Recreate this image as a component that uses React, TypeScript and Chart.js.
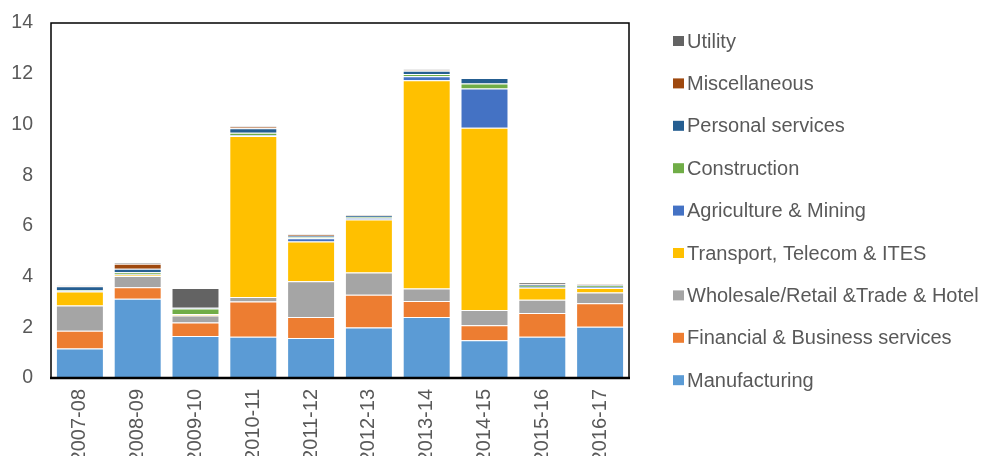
import React, { useEffect, useRef } from "react";
import { Chart, registerables } from "chart.js";

Chart.register(...registerables);

const categories = ["2007-08", "2008-09", "2009-10", "2010-11", "2011-12", "2012-13", "2013-14", "2014-15", "2015-16", "2016-17"];

const manufacturing = [1.16, 3.13, 1.66, 1.63, 1.58, 1.99, 2.41, 1.49, 1.63, 2.02];
const financial = [0.70, 0.45, 0.53, 1.39, 0.83, 1.29, 0.63, 0.59, 0.93, 0.93];
const wholesale = [1.00, 0.44, 0.27, 0.17, 1.41, 0.88, 0.49, 0.60, 0.53, 0.42];
const transport = [0.55, 0.04, 0.05, 6.35, 1.56, 2.09, 8.21, 7.19, 0.47, 0.18];
const agriculture = [0.02, 0.03, 0.01, 0.03, 0.13, 0.07, 0.16, 1.55, 0.03, 0.04];
const construction = [0.03, 0.08, 0.22, 0.10, 0.04, 0.03, 0.09, 0.19, 0.05, 0.06];
const personal = [0.16, 0.14, 0.02, 0.18, 0.06, 0.05, 0.13, 0.22, 0.05, 0.03];
const miscellaneous = [0.02, 0.20, 0.01, 0.05, 0.05, 0.01, 0.02, 0.01, 0.02, 0.02];
const utility = [0.01, 0.04, 0.78, 0.02, 0.02, 0.02, 0.03, 0.01, 0.05, 0.01];

const yTicks = [0, 2, 4, 6, 8, 10, 12, 14];

const seriesNames = [
  "Manufacturing",
  "Financial & Business services",
  "Wholesale/Retail &Trade & Hotel",
  "Transport, Telecom & ITES",
  "Agriculture & Mining",
  "Construction",
  "Personal services",
  "Miscellaneous",
  "Utility",
];
const seriesValues = [manufacturing, financial, wholesale, transport, agriculture, construction, personal, miscellaneous, utility];
const seriesColors = ["#5B9BD5", "#ED7D31", "#A5A5A5", "#FFC000", "#4472C4", "#70AD47", "#255E91", "#9E480E", "#636363"];

const FONT = "'Liberation Sans', Arial, sans-serif";
const TEXT = "#595959";

const frameAndLegend = {
  id: "frameAndLegend",
  afterDraw(chart: any) {
    const { ctx, chartArea } = chart;
    const { left, right, top, bottom } = chartArea;
    ctx.save();
    ctx.strokeStyle = "#000";
    ctx.lineWidth = 1.5;
    ctx.strokeRect(left, top, right - left, bottom - top);
    ctx.lineWidth = 2.5;
    ctx.beginPath();
    ctx.moveTo(left - 1, bottom);
    ctx.lineTo(right + 1, bottom);
    ctx.stroke();

    // legend
    const ds = chart.data.datasets;
    const startY = 33;
    const step = 42.4;
    const boxX = 665;
    const textX = 679;
    ctx.font = `20px ${FONT}`;
    ctx.textBaseline = "middle";
    ctx.textAlign = "left";
    for (let k = 0; k < ds.length; k++) {
      const d = ds[ds.length - 1 - k];
      const y = startY + k * step;
      ctx.fillStyle = d.backgroundColor;
      ctx.fillRect(boxX, y - 5, 11, 10);
      ctx.fillStyle = TEXT;
      ctx.fillText(d.label, textX, y + 1);
    }
    ctx.restore();
  },
};

export default function App() {
  const ref = useRef<HTMLCanvasElement>(null);
  useEffect(() => {
    if (!ref.current) return;
    const chart = new Chart(ref.current, {
      type: "bar",
      data: {
        labels: categories,
        datasets: seriesNames.map((name, i) => ({
          label: name,
          data: seriesValues[i],
          backgroundColor: seriesColors[i],
          borderColor: "rgba(255,255,255,0.55)",
          borderWidth: 1,
          categoryPercentage: 1,
          barPercentage: 0.83,
        })),
      },
      options: {
        animation: false,
        responsive: false,
        maintainAspectRatio: false,
        layout: { padding: { top: 15, right: 361, left: 0, bottom: 0 } },
        plugins: { legend: { display: false }, tooltip: { enabled: false } },
        scales: {
          x: {
            stacked: true,
            grid: { display: false, drawTicks: false },
            border: { display: false },
            ticks: {
              color: TEXT,
              font: { family: FONT, size: 20 },
              maxRotation: 90,
              minRotation: 90,
              padding: 11,
            },
            afterFit(scale: any) {
              scale.height = 86;
              scale.paddingTop = 0;
              scale.paddingBottom = 0;
              scale.paddingLeft = 0;
              scale.paddingRight = 0;
            },
          },
          y: {
            stacked: true,
            min: 0,
            max: 14,
            grid: { display: false, drawTicks: false },
            border: { display: false },
            afterBuildTicks(scale: any) {
              scale.ticks = yTicks.map((v) => ({ value: v }));
            },
            ticks: {
              color: TEXT,
              font: { family: FONT, size: 19.5 },
              padding: 18,
            },
            afterFit(scale: any) {
              scale.width = 43;
              scale.paddingTop = 0;
              scale.paddingBottom = 0;
            },
          },
        },
      },
      plugins: [frameAndLegend],
    });
    return () => chart.destroy();
  }, []);
  return <canvas ref={ref} width={982} height={456} style={{ display: "block", marginBottom: -8 }} />;
}
